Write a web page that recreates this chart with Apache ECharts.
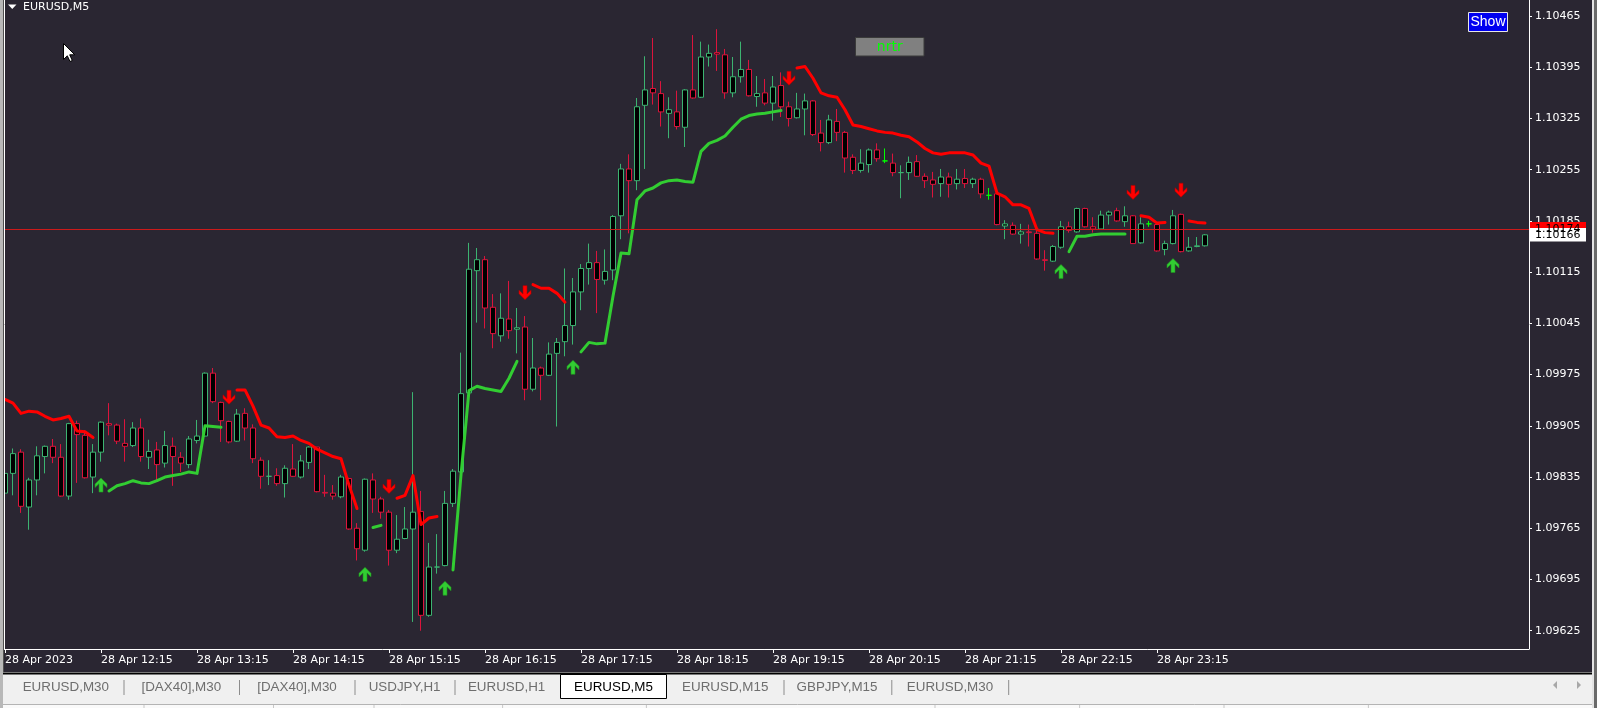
<!DOCTYPE html>
<html><head><meta charset="utf-8">
<script src="https://cdn.jsdelivr.net/npm/echarts@6/dist/echarts.min.js"></script>
<style>html,body{margin:0;padding:0;background:#2a2632;overflow:hidden}#c{width:1597px;height:708px}</style>
</head><body><div id="c"></div><script>
// ---------- DATA (EURUSD M5, 28 Apr 2023, first bar 11:15) ----------
const barCount = 151;   // bars 11:15 .. 23:45
const slotCount = 191;  // bar slots incl. empty right shift
const opens = [1.09813,1.09840,1.09869,1.09794,1.09831,1.09863,1.09877,1.09862,1.09809,1.09908,1.09892,1.09835,1.09869,1.09908,1.09906,1.09881,1.09878,1.09902,1.09862,1.09872,1.09854,1.09877,1.09862,1.09852,1.09885,1.09891,1.09977,1.09937,1.09911,1.09884,1.09922,1.09902,1.09858,1.09836,1.09837,1.09826,1.09846,1.09835,1.09855,1.09876,1.09814,1.09813,1.09808,1.09833,1.09765,1.09735,1.09831,1.09805,1.09787,1.09735,1.09751,1.09764,1.09788,1.09646,1.09712,1.09714,1.09799,1.09842,1.09950,1.10117,1.10132,1.10067,1.10028,1.10051,1.10037,1.10040,1.09955,1.09984,1.09974,1.10004,1.10020,1.10042,1.10088,1.10120,1.10128,1.10104,1.10118,1.10192,1.10256,1.10240,1.10343,1.10366,1.10359,1.10332,1.10334,1.10313,1.10364,1.10354,1.10409,1.10415,1.10412,1.10360,1.10382,1.10392,1.10355,1.10360,1.10346,1.10370,1.10341,1.10326,1.10338,1.10349,1.10305,1.10292,1.10321,1.10306,1.10272,1.10254,1.10262,1.10282,1.10267,1.10264,1.10251,1.10251,1.10266,1.10246,1.10241,1.10236,1.10245,1.10236,1.10243,1.10236,1.10242,1.10220,1.10222,1.10178,1.10179,1.10167,1.10170,1.10168,1.10132,1.10130,1.10149,1.10177,1.10170,1.10202,1.10177,1.10174,1.10193,1.10199,1.10184,1.10192,1.10155,1.10181,1.10180,1.10146,1.10154,1.10194,1.10144,1.10150,1.10151];
const highs = [1.09850,1.09874,1.09873,1.09834,1.09877,1.09878,1.09887,1.09880,1.09909,1.09912,1.09899,1.09880,1.09911,1.09936,1.09908,1.09914,1.09910,1.09915,1.09886,1.09883,1.09898,1.09889,1.09869,1.09891,1.09913,1.09978,1.09984,1.09938,1.09912,1.09928,1.09929,1.09907,1.09862,1.09858,1.09847,1.09851,1.09880,1.09865,1.09877,1.09876,1.09838,1.09824,1.09838,1.09834,1.09772,1.09833,1.09840,1.09808,1.09790,1.09783,1.09794,1.09951,1.09816,1.09745,1.09757,1.09816,1.09846,1.10005,1.10155,1.10148,1.10137,1.10085,1.10086,1.10103,1.10066,1.10055,1.10025,1.09986,1.10019,1.10025,1.10120,1.10107,1.10126,1.10154,1.10144,1.10146,1.10193,1.10263,1.10276,1.10353,1.10410,1.10435,1.10376,1.10354,1.10363,1.10365,1.10439,1.10430,1.10426,1.10447,1.10420,1.10409,1.10430,1.10405,1.10383,1.10379,1.10383,1.10388,1.10348,1.10360,1.10359,1.10350,1.10323,1.10330,1.10338,1.10308,1.10276,1.10283,1.10284,1.10291,1.10284,1.10277,1.10261,1.10273,1.10275,1.10250,1.10252,1.10256,1.10251,1.10256,1.10256,1.10244,1.10244,1.10230,1.10223,1.10186,1.10183,1.10181,1.10180,1.10173,1.10145,1.10152,1.10185,1.10184,1.10203,1.10203,1.10190,1.10199,1.10199,1.10203,1.10205,1.10193,1.10190,1.10185,1.10181,1.10158,1.10200,1.10195,1.10163,1.10163,1.10167];
const lows = [1.09804,1.09810,1.09786,1.09763,1.09810,1.09840,1.09854,1.09808,1.09804,1.09827,1.09833,1.09813,1.09856,1.09892,1.09880,1.09856,1.09876,1.09856,1.09846,1.09831,1.09848,1.09823,1.09842,1.09847,1.09881,1.09890,1.09936,1.09883,1.09881,1.09883,1.09885,1.09854,1.09819,1.09824,1.09823,1.09807,1.09835,1.09833,1.09846,1.09814,1.09808,1.09804,1.09806,1.09763,1.09721,1.09733,1.09786,1.09778,1.09714,1.09731,1.09750,1.09637,1.09625,1.09644,1.09703,1.09713,1.09794,1.09840,1.09947,1.10046,1.10038,1.10011,1.10020,1.10024,1.10004,1.09940,1.09952,1.09940,1.09973,1.09904,1.10000,1.10016,1.10063,1.10098,1.10059,1.10098,1.10104,1.10160,1.10168,1.10227,1.10256,1.10344,1.10314,1.10298,1.10310,1.10286,1.10352,1.10353,1.10396,1.10390,1.10352,1.10354,1.10374,1.10355,1.10341,1.10343,1.10322,1.10327,1.10314,1.10325,1.10302,1.10301,1.10280,1.10290,1.10294,1.10251,1.10249,1.10251,1.10251,1.10266,1.10264,1.10246,1.10216,1.10241,1.10245,1.10230,1.10217,1.10218,1.10217,1.10228,1.10230,1.10230,1.10216,1.10214,1.10179,1.10160,1.10166,1.10154,1.10150,1.10132,1.10117,1.10129,1.10147,1.10169,1.10169,1.10176,1.10169,1.10173,1.10180,1.10184,1.10177,1.10154,1.10154,1.10177,1.10143,1.10138,1.10153,1.10142,1.10143,1.10149,1.10150];
const closes = [1.09840,1.09867,1.09795,1.09831,1.09864,1.09877,1.09862,1.09809,1.09908,1.09893,1.09834,1.09869,1.09910,1.09906,1.09884,1.09877,1.09902,1.09863,1.09870,1.09852,1.09878,1.09863,1.09854,1.09887,1.09891,1.09977,1.09938,1.09912,1.09883,1.09921,1.09902,1.09860,1.09836,1.09836,1.09826,1.09847,1.09836,1.09857,1.09876,1.09815,1.09813,1.09809,1.09835,1.09764,1.09737,1.09832,1.09805,1.09787,1.09735,1.09750,1.09764,1.09787,1.09646,1.09712,1.09712,1.09799,1.09843,1.09949,1.10119,1.10132,1.10066,1.10031,1.10052,1.10035,1.10039,1.09955,1.09984,1.09974,1.10003,1.10019,1.10042,1.10088,1.10120,1.10128,1.10105,1.10116,1.10191,1.10256,1.10240,1.10341,1.10364,1.10360,1.10334,1.10337,1.10314,1.10364,1.10353,1.10409,1.10414,1.10413,1.10360,1.10382,1.10392,1.10356,1.10359,1.10346,1.10368,1.10341,1.10325,1.10338,1.10349,1.10303,1.10292,1.10323,1.10306,1.10271,1.10254,1.10264,1.10282,1.10270,1.10267,1.10251,1.10251,1.10265,1.10246,1.10240,1.10235,1.10245,1.10235,1.10242,1.10236,1.10242,1.10222,1.10220,1.10180,1.10181,1.10167,1.10170,1.10169,1.10133,1.10131,1.10150,1.10177,1.10172,1.10202,1.10177,1.10174,1.10193,1.10197,1.10185,1.10192,1.10154,1.10181,1.10181,1.10144,1.10154,1.10192,1.10143,1.10149,1.10151,1.10166];
const dojiBars = [33, 54, 110, 112, 123, 143];
const dojiColors = ['#3cb371', '#3cb371', '#00ff00', '#3cb371', '#00ff00', '#00ff00'];
// NRTR resistance (red) segments: [first bar, values...]
const resistanceSegments = [
  [0,   [1.09941,1.09936,1.09922,1.09925,1.09924,1.09918,1.09913,1.09915,1.09918,1.09898,1.09897,1.09889]],
  [29,  [1.09954,1.09954,1.09932,1.09906,1.09902,1.09890,1.09889,1.09891,1.09885,1.09881,1.09873,1.09868,1.09863,1.09860,1.09824,1.09792]],
  [49,  [1.09806,1.09810,1.09837,1.09770,1.09779,1.09781]],
  [66,  [1.10098,1.10093,1.10093,1.10086,1.10074]],
  [99,  [1.10394,1.10396,1.10380,1.10360,1.10356,1.10354,1.10337,1.10316,1.10314,1.10311,1.10308,1.10306,1.10305,1.10302,1.10300,1.10293,1.10284,1.10278,1.10276,1.10278,1.10278,1.10278,1.10275,1.10264,1.10260,1.10223,1.10218,1.10207,1.10207,1.10202,1.10173,1.10169,1.10168]],
  [142, [1.10192,1.10190,1.10182,1.10183]],
  [148, [1.10185,1.10183,1.10182]]
];
// NRTR support (green) segments
const supportSegments = [
  [13,  [1.09816,1.09823,1.09826,1.09830,1.09827,1.09826,1.09830,1.09835,1.09837,1.09839,1.09842,1.09840,1.09905,1.09904,1.09903]],
  [46,  [1.09766,1.09769]],
  [56,  [1.09708,1.09838,1.09953,1.09959,1.09956,1.09954,1.09952,1.09970,1.09993]],
  [72,  [1.10006,1.10019,1.10017,1.10018,1.10082,1.10141,1.10140,1.10214,1.10226,1.10230,1.10237,1.10240,1.10241,1.10239,1.10238,1.10280,1.10291,1.10295,1.10301,1.10313,1.10324,1.10329,1.10331,1.10332,1.10334,1.10336]],
  [133, [1.10143,1.10164,1.10164,1.10166,1.10167,1.10167,1.10167,1.10167]]
];
const upArrowBars = [12, 45, 55, 71, 132, 146];
const upArrowPrices = [1.09824, 1.09702, 1.09683, 1.09985, 1.10116, 1.10124];
const downArrowBars = [28, 48, 65, 98, 141, 147];
const downArrowPrices = [1.09944, 1.09822, 1.10087, 1.10380, 1.10224, 1.10227];
const priceTicks = [1.09625,1.09695,1.09765,1.09835,1.09905,1.09975,1.10045,1.10115,1.10185,1.10255,1.10325,1.10395,1.10465];
const timeTickLabels = ['28 Apr 2023','28 Apr 12:15','28 Apr 13:15','28 Apr 14:15','28 Apr 15:15','28 Apr 16:15','28 Apr 17:15','28 Apr 18:15','28 Apr 19:15','28 Apr 20:15','28 Apr 21:15','28 Apr 22:15','28 Apr 23:15'];
const barsPerTimeTick = 12;
const hlinePrice = 1.10174;
const bidPrice = 1.10166;
const tabNames = ['EURUSD,M30','[DAX40],M30','[DAX40],M30','USDJPY,H1','EURUSD,H1','EURUSD,M5','EURUSD,M15','GBPJPY,M15','EURUSD,M30'];
const activeTab = 5;

// ---------- CHART ----------
const FONT = 'DejaVu Sans';
const BG = '#2a2632';
const bullColor = '#3cb371', bearColor = '#dc143c';
const chart = echarts.init(document.getElementById('c'), null, {renderer: 'canvas', width: 1597, height: 708});

const cats = Array.from({length: slotCount}, (_, i) => String(i));
const candleData = opens.map((o, i) => {
  const v = [o, closes[i], lows[i], highs[i]];
  const d = dojiBars.indexOf(i);
  if (d >= 0) {
    const c = dojiColors[d];
    return {value: v, itemStyle: {color: '#000', color0: '#000', borderColor: c, borderColor0: c, borderColorDoji: c}};
  }
  return v;
});
function fromSegments(segs) {
  const arr = new Array(barCount).fill(null);
  segs.forEach(([s, vals]) => vals.forEach((v, k) => { arr[s + k] = v; }));
  return arr;
}
const tickShown = (idx) => idx % barsPerTimeTick === 0 && idx / barsPerTimeTick < timeTickLabels.length;
const upPath = 'path://M6,0 L12,6 L12,9.5 L8,5.6 L8,14 L4,14 L4,5.6 L0,9.5 L0,6 Z';
const downPath = 'path://M6,14 L12,8 L12,4.5 L8,8.4 L8,0 L4,0 L4,8.4 L0,4.5 L0,8 Z';

const option = {
  backgroundColor: BG,
  animation: false,
  textStyle: {fontFamily: FONT},
  grid: {left: 1, top: 0, width: 1528, height: 649, containLabel: false},
  xAxis: {
    type: 'category', data: cats, boundaryGap: true,
    axisLine: {show: true, onZero: false, lineStyle: {color: '#ffffff', width: 1}},
    axisTick: {show: true, alignWithLabel: true, interval: tickShown, length: 4, lineStyle: {color: '#ffffff'}},
    axisLabel: {
      show: true, interval: tickShown, align: 'left', margin: 6,
      color: '#ffffff', fontFamily: FONT, fontSize: 11,
      formatter: (val, idx) => timeTickLabels[Math.round(idx / barsPerTimeTick)] || ''
    },
    splitLine: {show: false}
  },
  yAxis: {
    type: 'value', position: 'right', min: 1.096, max: 1.104869, scale: true,
    axisLine: {show: true, lineStyle: {color: '#ffffff', width: 1}},
    axisTick: {show: true, customValues: priceTicks, length: 3, lineStyle: {color: '#ffffff'}},
    axisLabel: {show: true, customValues: priceTicks, margin: 6, color: '#ffffff', fontFamily: FONT, fontSize: 11,
      formatter: (v) => v.toFixed(5)},
    splitLine: {show: false}
  },
  series: [
    {
      type: 'candlestick', data: candleData, barWidth: 5, z: 2,
      itemStyle: {color: '#000000', color0: '#000000', borderColor: bullColor, borderColor0: bearColor, borderColorDoji: bullColor, borderWidth: 1},
      markLine: {
        silent: true, symbol: 'none', animation: false, precision: 5, z: 10,
        label: {show: false},
        lineStyle: {color: '#cc1a1a', width: 1, type: 'solid'},
        data: [{yAxis: hlinePrice}]
      }
    },
    {
      type: 'line', data: fromSegments(resistanceSegments), connectNulls: false,
      symbol: 'none', showSymbol: false, z: 3,
      lineStyle: {color: '#ff0000', width: 3, cap: 'round', join: 'round'}
    },
    {
      type: 'line', data: fromSegments(supportSegments), connectNulls: false,
      symbol: 'none', showSymbol: false, z: 3,
      lineStyle: {color: '#32cd32', width: 3, cap: 'round', join: 'round'}
    },
    {
      type: 'scatter', z: 4, symbol: upPath, symbolSize: [12, 14],
      itemStyle: {color: '#32cd32', opacity: 1, borderColor: '#1f8f1f', borderWidth: 0.6},
      data: upArrowBars.map((b, k) => [b, upArrowPrices[k]])
    },
    {
      type: 'scatter', z: 4, symbol: downPath, symbolSize: [12, 14],
      itemStyle: {color: '#ff0000', opacity: 1, borderColor: '#b00000', borderWidth: 0.6},
      data: downArrowBars.map((b, k) => [b, downArrowPrices[k]])
    }
  ]
};
chart.setOption(option);

// ---------- window chrome / labels ----------
const yH = chart.convertToPixel({yAxisIndex: 0}, hlinePrice);
const yB = chart.convertToPixel({yAxisIndex: 0}, bidPrice);
const G = [];
const Z = 100;
function rect(x, y, w, h, fill, stroke, lw) {
  G.push({type: 'rect', z: Z, silent: true, shape: {x, y, width: w, height: h},
    style: {fill: fill || null, stroke: stroke || null, lineWidth: lw || 1}});
}
function line(x1, y1, x2, y2, color, w) {
  G.push({type: 'line', z: Z + 1, silent: true, shape: {x1, y1, x2, y2}, style: {stroke: color, lineWidth: w || 1}});
}
function text(x, y, s, opts) {
  G.push({type: 'text', z: Z + 2, silent: true, x, y,
    style: Object.assign({text: s, fill: '#ffffff', font: '11px "DejaVu Sans"', textAlign: 'left', textVerticalAlign: 'middle'}, opts || {})});
}
// price boxes on the right axis
rect(1530, yH - 7, 56, 14, '#ff0000');
text(1535, yH, hlinePrice.toFixed(5), {fill: '#000000'});
rect(1530, yB - 6.7, 56, 13.4, '#ffffff');
text(1535, yB, bidPrice.toFixed(5), {fill: '#000000'});
// title
G.push({type: 'polygon', z: Z, silent: true, shape: {points: [[8, 4.5], [16.5, 4.5], [12.25, 9]]}, style: {fill: '#ffffff'}});
text(23, 7, 'EURUSD,M5');
// mouse cursor
G.push({type: 'polygon', z: Z + 3, silent: true,
  shape: {points: [[63.5, 43.5], [63.5, 59.5], [67.3, 55.8], [70, 61.5], [72.3, 60.5], [69.7, 54.8], [74.8, 54.8]]},
  style: {fill: '#ffffff', stroke: '#000000', lineWidth: 1}});
// nrtr label button
rect(855.5, 37.5, 68.5, 18.5, '#808080', '#3a3a3a');
text(889.75, 47, 'nrtr', {fill: '#00ff00', font: '14px "DejaVu Sans"', textAlign: 'center'});
// Show button
rect(1468.5, 12.5, 39, 19, '#0000f0', '#e6e6e6');
text(1488, 22.2, 'Show', {fill: '#ffffff', font: '14px "Liberation Sans"', textAlign: 'center'});
// left window frame
rect(0, 0, 3, 708, '#b8b8b8');
rect(3, 0, 1, 672, '#505050');
line(4.5, 0, 4.5, 649, '#ffffff', 1);
// right window frame
rect(1592, 0, 2, 708, '#e4e4e4');
rect(1594, 0, 3, 708, '#6a6a6a');
// bottom tab bar
rect(3, 672, 1589, 36, '#f0f0f0');
rect(3, 672.5, 1589, 2, '#000000');
const tabCenters = [65.8, 181.3, 297, 404.6, 506.6, 613.5, 725.2, 837, 950];
const tabSeps = [124, 239.5, 355, 455, 784, 891.8, 1008.7];
tabSeps.forEach(x => line(x, 680, x, 695, '#8c8c8c', 1));
rect(560.5, 674.5, 106, 24, '#ffffff', '#000000', 1);
tabNames.forEach((n, i) => text(tabCenters[i], 687.5, n, {
  fill: i === activeTab ? '#000000' : '#6e6e6e', font: '13.4px "Liberation Sans"', textAlign: 'center'}));
line(3, 704.5, 1592, 704.5, '#b4b4b4', 1);
rect(3, 705, 1589, 3, '#fafafa');
[144, 273.5, 374, 502.6, 646.4, 935, 1079.6, 1224, 1368.4].forEach(x => line(x, 705, x, 708, '#c8c8c8', 1));
// scroll arrows
G.push({type: 'polygon', z: Z, silent: true, shape: {points: [[1553, 685], [1557, 681], [1557, 689]]}, style: {fill: '#a8a8a8'}});
G.push({type: 'polygon', z: Z, silent: true, shape: {points: [[1581, 685], [1577, 681], [1577, 689]]}, style: {fill: '#a8a8a8'}});

chart.setOption({graphic: {elements: G}});
</script></body></html>
